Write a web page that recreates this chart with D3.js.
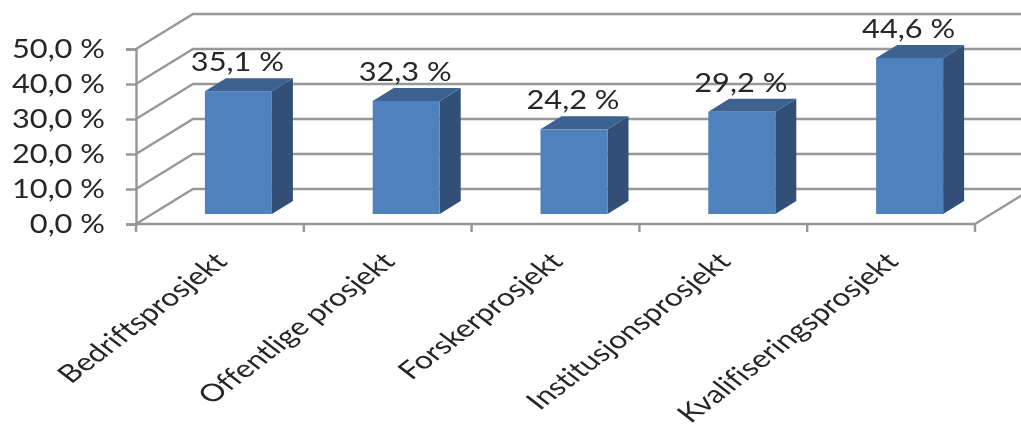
<!DOCTYPE html>
<html>
<head>
<meta charset="utf-8">
<script src="https://cdn.jsdelivr.net/npm/d3@7"></script>
<style>
html, body { margin: 0; padding: 0; background: #fff; }
svg { display: block; }
text { font-family: Lato, sans-serif; fill: #262626; font-variant-ligatures: none; }
</style>
</head>
<body>
<div id="chart"></div>
<script>
var categories = ["Bedriftsprosjekt", "Offentlige prosjekt", "Forskerprosjekt", "Institusjonsprosjekt", "Kvalifiseringsprosjekt"];
var values = [35.1, 32.3, 24.2, 29.2, 44.6];
var yTicks = [0, 10, 20, 30, 40, 50];

var width = 1021, height = 430;
var stretch = 1.14;  // the source picture is stretched sideways
var wall = {x: 57, y: -35};  // front plane to back wall
var depth = {x: 21, y: -13}, mid = {x: 18.5, y: -10};
var barWidth = 67;

var comma = function(v, n) { return v.toFixed(n).replace(".", ",") + " %"; };

var x = d3.scaleBand().domain(categories).range([136, 975]);
var y = d3.scaleLinear().domain([0, 50]).range([224, 49]);

var svg = d3.select("#chart").append("svg")
    .attr("width", width)
    .attr("height", height);

var defs = svg.append("defs");
defs.append("filter").attr("id", "soft")
    .append("feGaussianBlur").attr("stdDeviation", 0.6);

var chart = svg.append("g").attr("filter", "url(#soft)");

// gridlines: slanted side wall plus the back wall
var grid = chart.append("g")
    .attr("fill", "none")
    .attr("stroke", "#989898")
    .attr("stroke-width", 2.4);

grid.selectAll("path")
    .data(yTicks)
    .enter()
    .append("path")
    .attr("d", function(d) {
        var px = x.range()[0], py = y(d);
        return "M" + px + "," + py + "L" + (px + wall.x) + "," + (py + wall.y) + "H" + width;
    });

// floor edge on the right
grid.append("line")
    .attr("x1", x.range()[1]).attr("y1", y(0))
    .attr("x2", x.range()[1] + wall.x).attr("y2", y(0) + wall.y);

// axes
var xAxis = chart.append("g")
    .attr("transform", "translate(0," + y(0) + ")");
xAxis.append("line")
    .attr("x1", x.range()[0]).attr("x2", x.range()[1])
    .attr("stroke", "#969696").attr("stroke-width", 2.4);
xAxis.selectAll("line.tick")
    .data(categories.concat([null]))
    .enter()
    .append("line")
    .attr("class", "tick")
    .attr("x1", function(d) { return d === null ? x.range()[1] : x(d); })
    .attr("x2", function(d) { return d === null ? x.range()[1] : x(d); })
    .attr("y1", 0).attr("y2", 8)
    .attr("stroke", "#969696").attr("stroke-width", 2.4);

var yAxis = chart.append("g")
    .attr("transform", "translate(" + x.range()[0] + ",0)")
    .call(d3.axisLeft(y).tickValues(yTicks).tickSize(10).tickFormat(""));
yAxis.selectAll("path, line")
    .attr("stroke", "#969696")
    .attr("stroke-width", 2.4);

chart.append("g").selectAll("text")
    .data(yTicks)
    .enter()
    .append("text")
    .attr("text-anchor", "end")
    .attr("font-size", 27)
    .attr("transform", function(d) {
        return "translate(105," + (y(d) + 9) + ") scale(" + stretch + ",1)";
    })
    .text(function(d) { return comma(d, 1); });

// bars
var bars = chart.append("g").selectAll("g")
    .data(values)
    .enter()
    .append("g")
    .attr("transform", function(d, i) {
        var left = x(categories[i]) + x.bandwidth() / 2 + mid.x - barWidth / 2;
        return "translate(" + left + "," + mid.y + ")";
    });

bars.append("path")  // side
    .attr("fill", "#325078")
    .attr("d", function(d) {
        return "M" + barWidth + "," + y(d) + "l" + depth.x + "," + depth.y +
            "V" + (y(0) + depth.y) + "l" + (-depth.x) + "," + (-depth.y) + "Z";
    });
bars.append("path")  // top
    .attr("fill", "#3c6290")
    .attr("d", function(d) {
        return "M0," + y(d) + "l" + depth.x + "," + depth.y + "h" + barWidth +
            "l" + (-depth.x) + "," + (-depth.y) + "Z";
    });
bars.append("rect")  // front
    .attr("fill", "#4f81bd")
    .attr("x", 0)
    .attr("y", function(d) { return y(d); })
    .attr("width", barWidth)
    .attr("height", function(d) { return y(0) - y(d); });

bars.append("text")
    .attr("text-anchor", "middle")
    .attr("font-size", 27)
    .attr("transform", function(d) {
        return "translate(" + (barWidth / 2 - 1) + "," + (y(d) - 20) + ") scale(" + stretch + ",1)";
    })
    .text(function(d) { return comma(d, 1); });

// category labels
chart.append("g").selectAll("text")
    .data(categories)
    .enter()
    .append("text")
    .attr("text-anchor", "end")
    .attr("font-size", 24.5)
    .attr("transform", function(d) {
        return "translate(" + (x(d) + x.bandwidth() / 2 + 9) + ",263) scale(1.3,1) rotate(-45)";
    })
    .text(function(d) { return d; });
</script>
</body>
</html>
